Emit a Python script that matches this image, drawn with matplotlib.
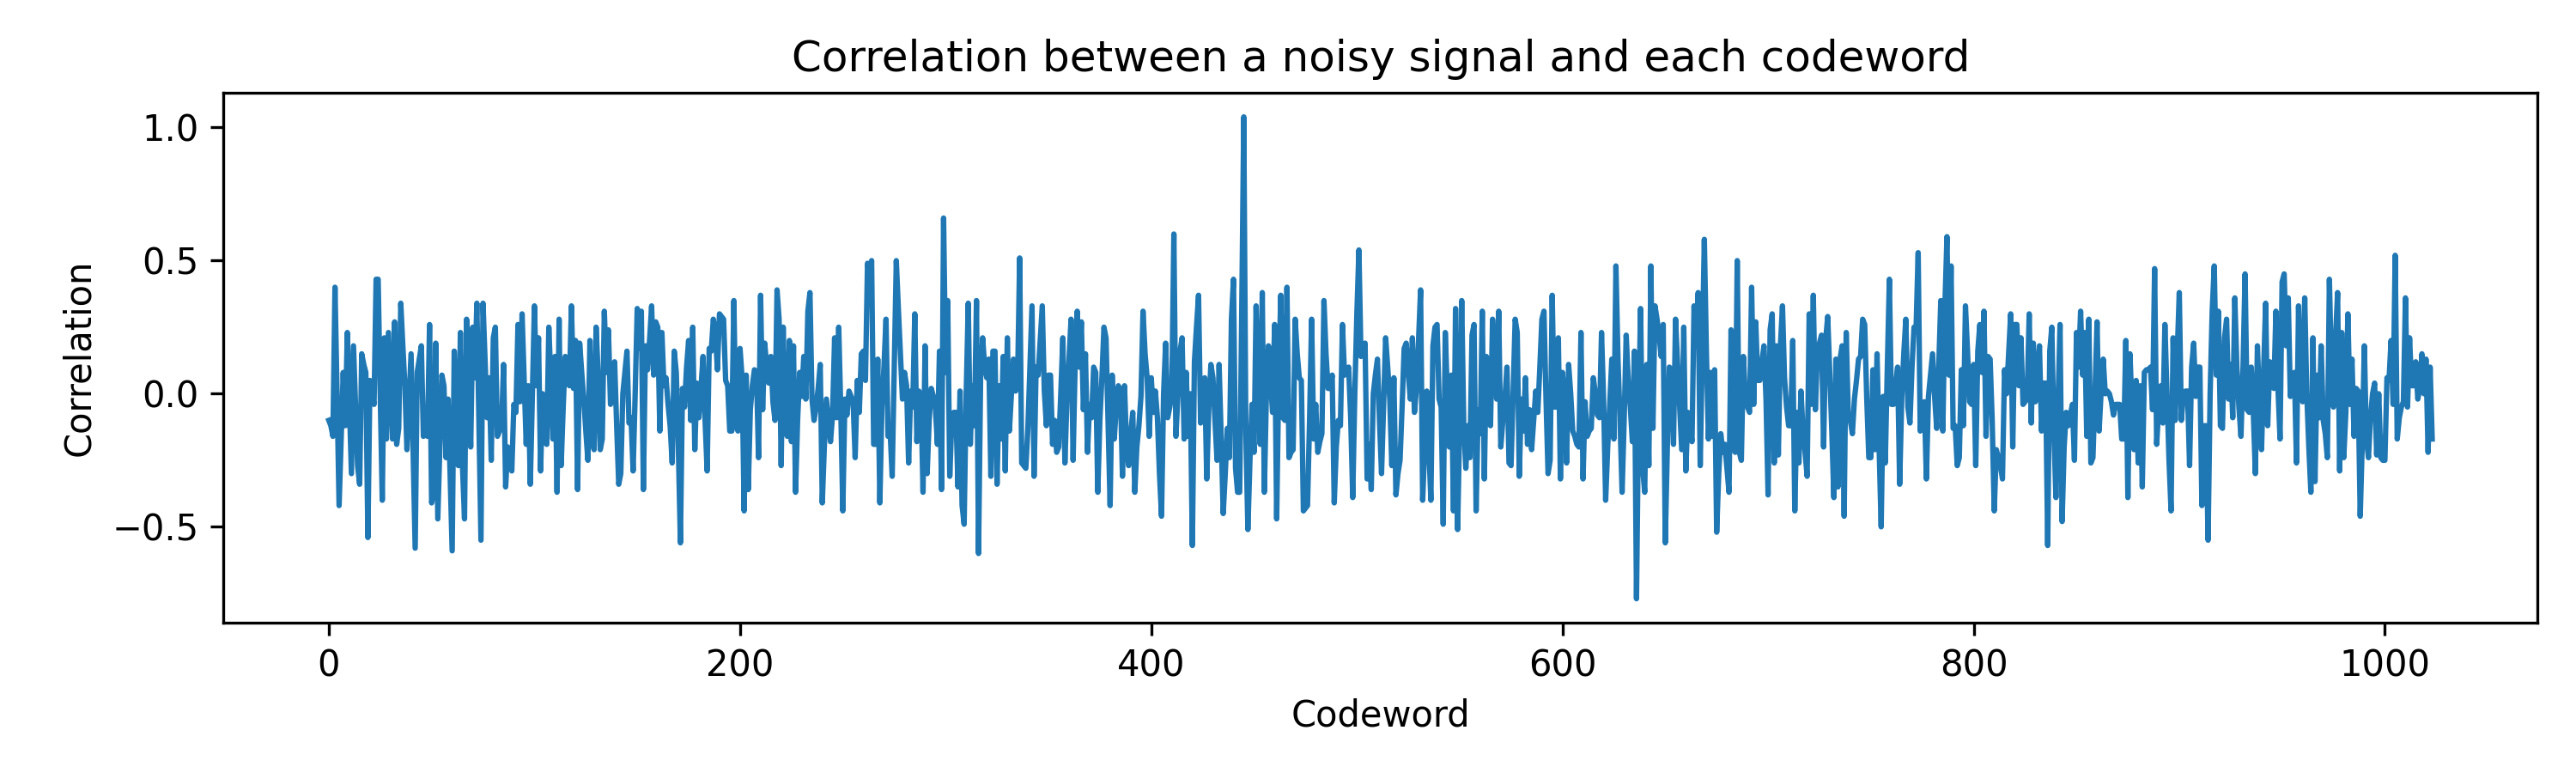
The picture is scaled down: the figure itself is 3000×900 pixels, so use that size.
import numpy as np
import matplotlib
matplotlib.use('Agg')
import matplotlib.pyplot as plt

# correlation values, in blocks of 100 codewords
corr_000 = [
    -0.10, -0.12, -0.16, 0.40, 0.00, -0.42, -0.17, 0.08, -0.12, 0.23,
    -0.03, -0.30, 0.18, -0.05, -0.27, -0.34, 0.15, 0.11, 0.08, -0.54,
    0.05, 0.00, -0.04, 0.43, 0.43, 0.00, -0.40, 0.21, -0.17, 0.23,
    0.03, -0.17, 0.27, -0.19, -0.13, 0.34, 0.18, 0.03, -0.21, -0.03,
    0.15, -0.22, -0.58, 0.08, 0.13, 0.18, -0.16, -0.15, -0.16, 0.26,
    -0.41, -0.37, 0.19, -0.47, -0.20, 0.07, 0.03, -0.24, -0.02, -0.30,
    -0.59, 0.16, -0.05, -0.27, 0.23, -0.27, -0.47, 0.28, 0.05, -0.20,
    0.25, 0.06, 0.34, -0.10, -0.55, 0.34, 0.12, -0.09, 0.06, -0.25,
    0.21, 0.25, -0.16, -0.14, -0.13, 0.11, -0.35, -0.20, -0.25, -0.29,
    -0.04, -0.07, 0.26, -0.03, 0.30, 0.05, -0.19, 0.03, -0.34, 0.00,
]
corr_100 = [
    0.33, 0.03, 0.21, -0.29, 0.00, -0.18, -0.19, 0.25, 0.05, -0.17,
    0.14, -0.37, 0.28, -0.27, -0.05, 0.14, 0.11, 0.03, 0.33, 0.02,
    0.20, -0.36, 0.19, 0.08, -0.02, -0.14, -0.25, 0.20, -0.16, -0.21,
    0.25, 0.07, -0.21, -0.17, 0.31, 0.08, 0.24, -0.04, -0.02, 0.12,
    -0.12, -0.34, -0.30, 0.00, 0.08, 0.16, -0.11, -0.09, -0.29, 0.00,
    0.32, 0.17, 0.31, -0.36, 0.18, 0.09, 0.20, 0.33, 0.07, 0.27,
    0.25, -0.14, 0.23, 0.03, 0.06, -0.04, -0.12, -0.26, 0.16, 0.08,
    -0.20, -0.56, 0.02, -0.05, 0.10, 0.20, -0.10, 0.25, -0.21, 0.04,
    -0.09, 0.02, 0.14, -0.10, -0.29, 0.17, 0.16, 0.28, 0.23, 0.09,
    0.30, 0.29, 0.28, 0.05, 0.03, -0.14, -0.14, 0.35, -0.12, -0.14,
]
corr_200 = [
    0.17, 0.06, -0.44, 0.07, -0.36, -0.06, 0.03, 0.09, 0.08, -0.24,
    0.37, -0.06, 0.19, 0.10, 0.04, 0.14, -0.03, -0.10, 0.39, 0.28,
    -0.27, 0.25, -0.14, -0.16, 0.20, -0.18, 0.18, -0.37, -0.10, 0.08,
    -0.01, 0.14, -0.02, 0.31, 0.38, -0.02, -0.10, -0.05, 0.02, 0.11,
    -0.41, -0.20, -0.02, -0.10, -0.18, -0.08, 0.21, -0.09, 0.25, -0.06,
    -0.44, -0.02, -0.08, 0.01, -0.01, -0.03, -0.24, 0.05, -0.07, 0.15,
    0.16, 0.05, 0.49, 0.44, 0.50, -0.19, -0.19, 0.13, -0.41, -0.05,
    0.10, 0.28, -0.16, -0.14, -0.31, 0.10, 0.50, 0.32, 0.15, -0.02,
    0.08, 0.03, -0.26, 0.01, -0.05, 0.30, -0.18, 0.01, -0.01, -0.37,
    0.18, -0.30, -0.10, 0.02, -0.01, -0.05, -0.19, 0.16, -0.36, 0.66,
]
corr_300 = [
    0.08, 0.35, -0.31, -0.10, -0.07, -0.07, -0.35, 0.01, -0.42, -0.49,
    0.00, 0.34, -0.19, 0.03, -0.12, 0.35, -0.60, 0.06, 0.21, 0.10,
    0.06, 0.13, -0.31, 0.16, 0.16, -0.34, 0.03, -0.17, 0.14, -0.29,
    0.21, -0.14, 0.00, 0.13, 0.01, 0.05, 0.51, -0.26, -0.27, -0.28,
    -0.13, 0.10, 0.33, -0.31, 0.10, 0.07, 0.20, 0.33, 0.01, -0.12,
    0.07, 0.07, -0.19, -0.10, -0.22, -0.20, 0.00, 0.21, -0.26, -0.02,
    0.13, 0.28, -0.25, 0.12, 0.31, 0.10, 0.27, -0.06, 0.15, -0.22,
    -0.04, -0.09, 0.10, 0.08, -0.37, -0.10, 0.06, 0.25, 0.21, -0.10,
    -0.42, 0.07, -0.17, -0.05, 0.03, 0.01, -0.31, 0.03, -0.20, -0.27,
    -0.15, -0.07, -0.37, -0.20, -0.12, -0.01, 0.31, 0.15, 0.06, -0.16,
]
corr_400 = [
    0.06, -0.07, 0.01, -0.09, -0.30, -0.46, 0.00, 0.19, -0.09, -0.05,
    0.00, 0.60, -0.16, 0.00, 0.16, 0.21, -0.17, 0.08, -0.16, 0.00,
    -0.57, 0.12, 0.25, 0.37, -0.11, 0.00, 0.06, -0.32, -0.05, 0.11,
    0.06, -0.10, -0.25, 0.11, -0.16, -0.45, -0.30, -0.13, -0.24, 0.28,
    0.43, -0.28, -0.37, -0.37, 0.30, 1.04, -0.14, -0.51, -0.25, -0.04,
    -0.22, 0.33, 0.00, -0.19, 0.38, -0.37, 0.00, 0.18, 0.05, -0.07,
    0.26, -0.47, 0.06, 0.37, -0.09, -0.10, 0.40, -0.24, -0.22, -0.21,
    0.28, 0.15, 0.06, 0.05, -0.44, -0.43, -0.42, -0.10, 0.28, -0.17,
    -0.04, -0.22, -0.18, -0.15, 0.35, 0.15, 0.02, 0.02, 0.07, -0.41,
    -0.20, -0.10, -0.12, 0.26, 0.07, 0.08, 0.10, -0.09, -0.39, 0.00,
]
corr_500 = [
    0.30, 0.54, 0.14, 0.16, 0.19, -0.32, -0.19, -0.36, 0.00, 0.07,
    0.13, -0.10, -0.30, -0.05, 0.21, 0.10, -0.02, -0.27, 0.06, -0.38,
    -0.30, -0.25, -0.05, 0.17, 0.19, 0.08, -0.02, 0.21, -0.07, 0.02,
    0.20, 0.39, -0.40, -0.20, 0.01, -0.20, -0.40, 0.18, 0.25, 0.26,
    -0.02, -0.05, -0.49, 0.23, 0.00, -0.20, 0.07, -0.44, 0.32, -0.51,
    -0.12, 0.35, -0.12, -0.28, -0.12, -0.24, 0.22, 0.26, -0.44, -0.06,
    -0.15, 0.31, -0.32, 0.14, 0.00, -0.12, 0.28, 0.12, -0.02, 0.31,
    -0.20, -0.10, -0.02, 0.10, -0.26, -0.27, 0.00, 0.28, 0.23, -0.31,
    -0.02, -0.14, 0.06, -0.19, -0.06, -0.21, -0.10, 0.01, -0.07, 0.10,
    0.28, 0.31, -0.02, -0.30, -0.25, 0.37, -0.05, -0.05, 0.21, -0.32,
]
corr_600 = [
    0.08, -0.02, -0.26, 0.11, 0.00, -0.14, -0.16, -0.19, -0.20, 0.23,
    -0.32, -0.03, -0.16, -0.14, -0.13, 0.06, 0.00, -0.08, -0.09, 0.23,
    -0.02, -0.40, -0.20, -0.04, 0.13, -0.17, 0.48, 0.13, -0.10, -0.37,
    -0.10, 0.22, 0.05, -0.05, -0.18, 0.16, -0.77, -0.08, 0.32, -0.28,
    -0.37, 0.11, -0.27, 0.48, -0.13, 0.33, 0.28, 0.22, 0.14, 0.26,
    -0.56, -0.20, 0.10, 0.09, -0.19, 0.28, 0.11, -0.05, -0.21, 0.25,
    -0.29, -0.07, -0.12, -0.18, 0.33, 0.18, 0.38, -0.27, 0.15, 0.58,
    0.16, -0.17, 0.08, -0.16, 0.09, -0.52, -0.30, -0.15, -0.22, -0.19,
    -0.28, -0.37, 0.24, -0.20, -0.22, 0.50, -0.22, -0.25, 0.14, -0.02,
    -0.05, -0.07, 0.40, -0.04, 0.27, 0.05, 0.05, 0.12, 0.18, -0.02,
]
corr_700 = [
    -0.38, 0.24, 0.30, -0.26, 0.18, -0.23, 0.18, 0.33, 0.06, -0.05,
    -0.12, -0.12, 0.20, -0.44, -0.07, -0.26, 0.01, -0.14, -0.22, -0.31,
    0.30, -0.04, 0.37, -0.06, 0.16, 0.19, 0.22, -0.20, 0.20, 0.29,
    0.08, -0.14, -0.39, 0.13, -0.35, 0.13, 0.18, -0.46, 0.23, -0.08,
    -0.10, -0.15, -0.02, 0.05, 0.13, 0.14, 0.28, 0.26, -0.02, -0.24,
    -0.24, 0.09, -0.21, 0.15, -0.20, -0.50, -0.01, -0.26, 0.10, 0.43,
    -0.04, -0.04, 0.03, 0.10, -0.34, -0.02, 0.15, 0.28, -0.05, -0.11,
    0.10, 0.25, 0.25, 0.53, -0.14, -0.08, -0.03, -0.32, -0.01, 0.07,
    0.15, -0.01, -0.13, 0.10, 0.35, -0.14, 0.33, 0.59, 0.07, 0.48,
    -0.13, -0.12, -0.27, -0.24, 0.09, -0.12, 0.33, 0.16, -0.03, -0.04,
]
corr_800 = [
    0.11, -0.27, 0.16, 0.26, 0.08, 0.31, -0.16, 0.14, 0.13, -0.10,
    -0.44, -0.21, -0.24, -0.27, -0.32, 0.09, 0.00, 0.15, 0.30, -0.20,
    0.26, 0.26, 0.03, 0.21, -0.04, -0.03, -0.02, 0.30, -0.11, 0.19,
    -0.03, 0.08, 0.18, -0.14, 0.04, 0.04, -0.57, 0.16, 0.25, -0.14,
    -0.39, -0.05, 0.26, -0.48, -0.20, -0.07, -0.12, -0.08, -0.04, -0.25,
    0.23, 0.10, 0.31, 0.07, 0.23, -0.16, 0.28, -0.26, -0.24, 0.00,
    0.27, -0.14, 0.01, 0.13, 0.00, 0.01, 0.00, -0.03, -0.08, -0.04,
    -0.04, -0.04, -0.17, -0.17, 0.20, -0.39, 0.15, -0.05, -0.21, 0.05,
    -0.26, 0.03, -0.35, 0.08, 0.09, 0.09, 0.10, -0.06, 0.47, -0.19,
    -0.05, 0.03, -0.11, 0.26, 0.00, -0.25, -0.44, 0.21, -0.10, 0.15,
]
corr_900 = [
    0.38, -0.10, 0.00, 0.01, 0.01, -0.27, 0.10, 0.19, -0.01, 0.10,
    0.10, -0.42, -0.12, -0.12, -0.55, 0.00, 0.31, 0.48, 0.07, 0.31,
    -0.12, -0.13, 0.21, 0.28, -0.02, 0.11, -0.09, 0.36, 0.10, -0.05,
    -0.16, 0.10, 0.45, -0.06, -0.07, 0.10, -0.07, -0.30, 0.18, -0.03,
    -0.21, 0.08, 0.34, -0.12, 0.12, 0.05, 0.02, 0.31, 0.02, -0.17,
    0.42, 0.45, 0.18, 0.36, -0.01, 0.05, 0.08, -0.26, 0.33, 0.01,
    -0.03, 0.36, 0.00, -0.20, -0.37, 0.21, -0.33, 0.07, -0.09, 0.18,
    -0.10, -0.15, -0.24, 0.43, 0.08, -0.05, 0.21, 0.38, -0.29, 0.23,
    -0.24, -0.07, 0.30, -0.04, 0.13, -0.16, 0.02, 0.01, -0.46, -0.18,
    0.18, -0.17, -0.24, -0.09, 0.00, 0.04, -0.23, 0.00, -0.24, -0.25,
    -0.25, 0.06, 0.05, 0.20, -0.04, 0.52, -0.17, -0.09, -0.05, -0.03,
    0.36, -0.05, 0.21, 0.03, 0.03, 0.12, -0.02, 0.02, 0.15, 0.00,
    0.13, -0.22, 0.10, -0.17,
]

corr = np.concatenate([corr_000, corr_100, corr_200, corr_300, corr_400,
                       corr_500, corr_600, corr_700, corr_800, corr_900])
codeword = np.arange(len(corr))

fig, ax = plt.subplots(figsize=(10, 3), dpi=300)
ax.plot(codeword, corr)
ax.set_title('Correlation between a noisy signal and each codeword')
ax.set_xlabel('Codeword')
ax.set_ylabel('Correlation')
plt.tight_layout()
plt.savefig('out.png', dpi=300)
